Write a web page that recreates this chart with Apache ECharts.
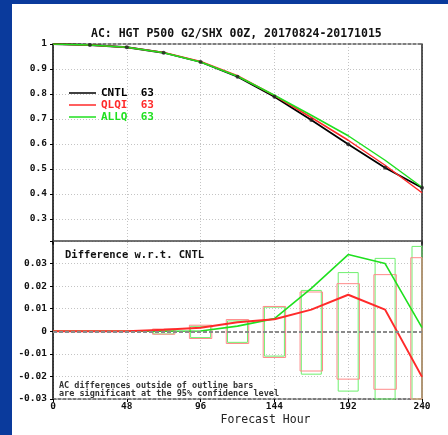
<!DOCTYPE html>
<html>
<head>
<meta charset="utf-8">
<script src="https://cdn.jsdelivr.net/npm/echarts/dist/echarts.min.js"></script>
<style>
html,body{margin:0;padding:0;background:#0a3a9c;width:448px;height:435px;overflow:hidden;}
#chart{position:absolute;left:12px;top:4px;width:436px;height:431px;background:#fff;}
</style>
</head>
<body>
<div id="chart"></div>
<script>
// ---- data ----
const hours = [0, 24, 48, 72, 96, 120, 144, 168, 192, 216, 240];
const expNames = ['CNTL', 'QLQI', 'ALLQ'];
const expCounts = [63, 63, 63];
const cntl = [1.0, 0.996, 0.987, 0.965, 0.928, 0.869, 0.789, 0.696, 0.599, 0.505, 0.425];
const qlqi = [1.0, 0.996, 0.987, 0.966, 0.930, 0.873, 0.794, 0.706, 0.615, 0.515, 0.405];
const allq = [1.0, 0.996, 0.987, 0.965, 0.928, 0.871, 0.795, 0.715, 0.633, 0.535, 0.427];
const qlqiDiff = [0, 0, 0, 0.0007, 0.0016, 0.0040, 0.0053, 0.0096, 0.0162, 0.0096, -0.0202];
const allqDiff = [0, 0, 0, 0, 0.0001, 0.0023, 0.0056, 0.0190, 0.0340, 0.0300, 0.0016];
const boxHours = [72, 96, 120, 144, 168, 192, 216, 240];
const qlqiLow  = [-0.0013, -0.0032, -0.0054, -0.0116, -0.0176, -0.0212, -0.0257, -0.0330];
const qlqiHigh = [0.0010, 0.0027, 0.0052, 0.0110, 0.0174, 0.0211, 0.0251, 0.0326];
const allqLow  = [-0.0012, -0.0028, -0.0049, -0.0110, -0.0190, -0.0265, -0.0320, -0.0380];
const allqHigh = [0.0005, 0.0022, 0.0046, 0.0107, 0.0181, 0.0260, 0.0323, 0.0376];
const titleText = 'AC: HGT P500 G2/SHX 00Z, 20170824-20171015';
const diffTitle = 'Difference w.r.t. CNTL';
const noteText = 'AC differences outside of outline bars\nare significant at the 95% confidence level';
const xName = 'Forecast Hour';

// ---- helpers ----
const MONO = '"DejaVu Sans Mono", "Liberation Mono", monospace';
const RED = '#ff2a2a', GREEN = '#1fe01f';
const zip = (xs, ys) => xs.map((x, i) => [x, ys[i]]);
const boxData = (lo, hi) => boxHours.map((h, i) => [h, lo[i], hi[i]]);
function boxRender(half, color) {
  return function (params, api) {
    const x = api.value(0), lo = api.value(1), hi = api.value(2);
    const p1 = api.coord([x - half, hi]);
    const p2 = api.coord([x + half, lo]);
    const shape = echarts.graphic.clipRectByRect(
      {x: p1[0], y: p1[1], width: p2[0] - p1[0], height: p2[1] - p1[1]},
      {x: params.coordSys.x, y: params.coordSys.y, width: params.coordSys.width, height: params.coordSys.height});
    if (!shape) return null;
    return {type: 'rect', shape: shape, style: {fill: 'none', stroke: color, lineWidth: 1}};
  };
}
const dotted = {show: true, lineStyle: {color: '#c4c4c4', type: [1, 2], width: 1}};
const noAxis = {show: false};

const chart = echarts.init(document.getElementById('chart'), null, {renderer: 'canvas'});
chart.setOption({
  animation: false,
  backgroundColor: 'transparent',
  title: [
    {text: titleText, left: 79, top: 24, padding: 0,
     textStyle: {fontFamily: MONO, fontWeight: 'bold', fontSize: 11.5, color: '#111'}},
    {text: diffTitle, left: 53, top: 246, padding: 0,
     textStyle: {fontFamily: MONO, fontWeight: 'bold', fontSize: 10.5, color: '#111'}},
    {text: noteText, left: 47, top: 378, padding: 0,
     textStyle: {fontFamily: MONO, fontWeight: 'bold', fontSize: 8.5, lineHeight: 8, color: '#333'}}
  ],
  legend: {
    left: 57, top: 83, orient: 'vertical', padding: 0, itemGap: 0,
    itemWidth: 27, itemHeight: 1.5, icon: 'rect',
    selectedMode: false,
    formatter: name => name + '  ' + expCounts[expNames.indexOf(name)],
    textStyle: {fontFamily: MONO, fontWeight: 'bold', fontSize: 11, lineHeight: 12},
    data: [
      {name: 'CNTL', textStyle: {color: '#000'}},
      {name: 'QLQI', textStyle: {color: RED}},
      {name: 'ALLQ', textStyle: {color: GREEN}}
    ]
  },
  grid: [
    {left: 41, right: 26, top: 40, height: 200},
    {left: 41, right: 26, top: 237, height: 158}
  ],
  xAxis: [
    {gridIndex: 0, type: 'value', position: 'top', min: 0, max: 240, interval: 48,
     axisLine: {show: true, onZero: false, lineStyle: {color: '#555', type: [3, 2], width: 1.5}},
     axisTick: noAxis, axisLabel: noAxis, splitLine: dotted},
    {gridIndex: 1, type: 'value', position: 'bottom', min: 0, max: 240, interval: 48,
     axisLine: {show: true, onZero: false, lineStyle: {color: '#555', type: [3, 2], width: 1.5}},
     axisTick: {show: true, inside: false, length: 3, lineStyle: {color: '#000'}},
     axisLabel: {margin: 3, fontFamily: MONO, fontWeight: 'bold', fontSize: 9.5, color: '#111'},
     splitLine: dotted,
     name: xName, nameLocation: 'middle', nameGap: 15,
     nameTextStyle: {fontFamily: MONO, fontSize: 11.5, color: '#222', padding: [0, 0, 0, 56]}},
    {gridIndex: 1, type: 'value', position: 'top', min: 0, max: 240, interval: 48,
     axisLine: {show: true, onZero: false, lineStyle: {color: '#444', width: 1.5}},
     axisTick: noAxis, axisLabel: noAxis, splitLine: noAxis}
  ],
  yAxis: [
    {gridIndex: 0, type: 'value', position: 'left', min: 0.2, max: 1, interval: 0.1,
     axisLine: {show: true, onZero: false, lineStyle: {color: '#000', width: 1.5}},
     axisTick: {show: true, length: 3, lineStyle: {color: '#000'}},
     axisLabel: {margin: 6, showMinLabel: false, fontFamily: MONO, fontWeight: 'bold', fontSize: 9.5, color: '#111',
                 formatter: v => v < 0.25 ? '' : String(+v.toFixed(1))},
     splitLine: Object.assign({showMinLine: false, showMaxLine: false}, dotted)},
    {gridIndex: 0, type: 'value', position: 'right', min: 0.2, max: 1, interval: 0.1,
     axisLine: {show: true, onZero: false, lineStyle: {color: '#222', width: 1.5}},
     axisTick: noAxis, axisLabel: noAxis, splitLine: noAxis},
    {gridIndex: 1, type: 'value', position: 'left', min: -0.03, max: 0.04, interval: 0.01,
     axisLine: {show: true, onZero: false, lineStyle: {color: '#000', width: 1.5}},
     axisTick: {show: true, length: 3, lineStyle: {color: '#000'}},
     axisLabel: {margin: 6, fontFamily: MONO, fontWeight: 'bold', fontSize: 9.5, color: '#111',
                 formatter: v => v > 0.035 ? '' : String(+v.toFixed(2))},
     splitLine: dotted},
    {gridIndex: 1, type: 'value', position: 'right', min: -0.03, max: 0.04, interval: 0.01,
     axisLine: {show: true, onZero: false, lineStyle: {color: '#222', width: 1.5}},
     axisTick: noAxis, axisLabel: noAxis, splitLine: noAxis}
  ],
  series: [
    {name: 'CNTL', type: 'line', xAxisIndex: 0, yAxisIndex: 0, data: zip(hours, cntl),
     color: '#000', symbol: 'none', lineStyle: {color: '#000', width: 1.8, type: 'solid'}, z: 2},
    {name: 'QLQI', type: 'line', xAxisIndex: 0, yAxisIndex: 0, data: zip(hours, qlqi),
     color: RED, symbol: 'none', lineStyle: {color: RED, width: 1.5, type: 'solid'}, z: 3},
    {name: 'ALLQ', type: 'line', xAxisIndex: 0, yAxisIndex: 0, data: zip(hours, allq),
     color: GREEN, symbol: 'none', lineStyle: {color: GREEN, width: 1.5, type: 'solid'}, z: 4},
    {name: 'CNTL points', type: 'scatter', xAxisIndex: 0, yAxisIndex: 0, data: zip(hours, cntl).slice(1),
     symbol: 'circle', symbolSize: 4, itemStyle: {color: '#222'}, z: 5},
    {name: 'ALLQ bars', type: 'custom', xAxisIndex: 1, yAxisIndex: 2,
     data: boxData(allqLow, allqHigh), renderItem: boxRender(6.5, '#6ef06e'), z: 2,
     markLine: {silent: true, symbol: 'none', label: {show: false},
                lineStyle: {color: '#8a8a8a', type: [4, 2], width: 2},
                data: [{yAxis: 0}]}},
    {name: 'QLQI bars', type: 'custom', xAxisIndex: 1, yAxisIndex: 2,
     data: boxData(qlqiLow, qlqiHigh), renderItem: boxRender(7.3, '#ff8a8a'), z: 2},
    {name: 'ALLQ diff', type: 'line', xAxisIndex: 1, yAxisIndex: 2, data: zip(hours, allqDiff),
     symbol: 'none', lineStyle: {color: GREEN, width: 1.6}, z: 3},
    {name: 'QLQI diff', type: 'line', xAxisIndex: 1, yAxisIndex: 2, data: zip(hours, qlqiDiff),
     symbol: 'none', lineStyle: {color: RED, width: 2}, z: 4}
  ]
});
</script>
</body>
</html>
